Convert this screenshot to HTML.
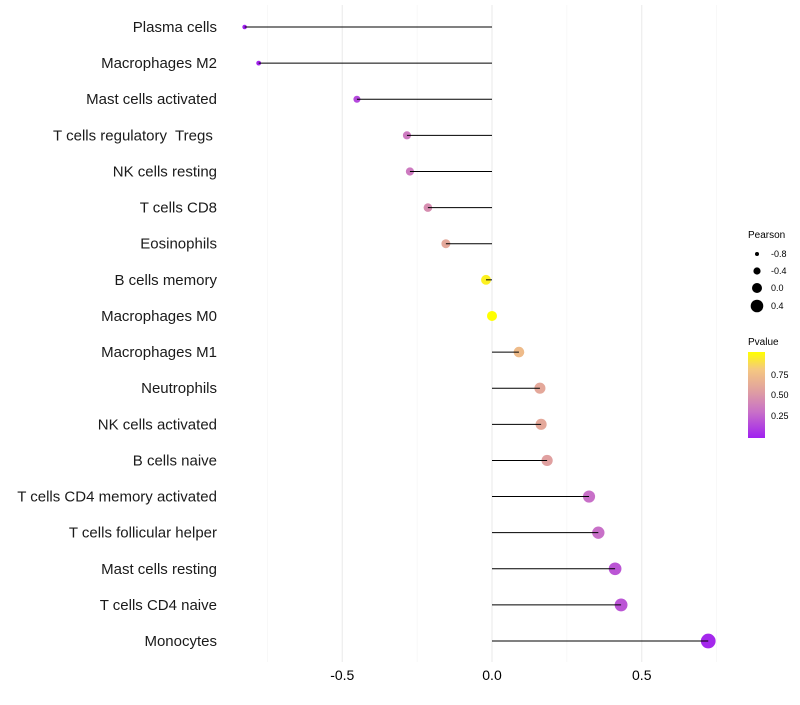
<!DOCTYPE html>
<html><head><meta charset="utf-8"><style>
body{margin:0;background:#fff;font-family:"Liberation Sans",sans-serif}
</style></head><body>
<svg id="chart" width="800" height="700">
<defs><linearGradient id="pg" x1="0" y1="1" x2="0" y2="0">
<stop offset="0" stop-color="#a020f0"/><stop offset="0.3" stop-color="#c870c8"/><stop offset="0.55" stop-color="#e0a0a0"/><stop offset="0.8" stop-color="#f5c880"/><stop offset="1" stop-color="#ffff00"/></linearGradient></defs>
<g id="grid"></g><g id="marks"></g><g id="stems"></g><g id="labels"></g>
<g font-size="9">
<text x="748" y="238" font-size="10">Pearson</text>
<circle cx="757" cy="254" r="2" fill="#000"/><text x="771" y="257">-0.8</text>
<circle cx="757" cy="271" r="3.6" fill="#000"/><text x="771" y="274">-0.4</text>
<circle cx="757" cy="288" r="5" fill="#000"/><text x="771" y="291">0.0</text>
<circle cx="757" cy="306" r="6.3" fill="#000"/><text x="771" y="309">0.4</text>
<text x="748" y="345" font-size="10">Pvalue</text>
<rect x="748" y="352" width="17" height="86" fill="url(#pg)"/>
<text x="771" y="378">0.75</text><text x="771" y="398">0.50</text><text x="771" y="419">0.25</text>
</g>
</svg>
<script>
const cells=["Plasma cells","Macrophages M2","Mast cells activated","T cells regulatory  Tregs ","NK cells resting","T cells CD8","Eosinophils","B cells memory","Macrophages M0","Macrophages M1","Neutrophils","NK cells activated","B cells naive","T cells CD4 memory activated","T cells follicular helper","Mast cells resting","T cells CD4 naive","Monocytes"];
const pearson=[-0.826,-0.779,-0.451,-0.284,-0.274,-0.214,-0.154,-0.02,0.0,0.09,0.16,0.164,0.184,0.324,0.355,0.411,0.431,0.722];
const pvalue=[0.0,0.02,0.15,0.35,0.35,0.45,0.6,0.95,1.0,0.72,0.6,0.6,0.55,0.3,0.3,0.2,0.2,0.03];
const xTicks=[-0.5,0,0.5];
const xTickLabels=["-0.5","0.0","0.5"];
const NS="http://www.w3.org/2000/svg";
const x=v=>492+v*299.5;
const y=i=>27+i*36.12;
const r=v=>5+v*3.3;
function col(p){const st=[[0,[160,32,240]],[0.3,[200,112,200]],[0.55,[224,160,160]],[0.8,[245,200,128]],[1,[255,255,0]]];
for(let k=1;k<st.length;k++){if(p<=st[k][0]){const a=st[k-1],b=st[k],t=(p-a[0])/(b[0]-a[0]);return `rgb(${a[1].map((c,j)=>Math.round(c+(b[1][j]-c)*t)).join(",")})`;}}return "rgb(255,255,0)";}
function mk(t,a,p){const e=document.createElementNS(NS,t);for(const k in a)e.setAttribute(k,a[k]);p.appendChild(e);return e;}
const g=document.getElementById("grid"),m=document.getElementById("marks"),s=document.getElementById("stems"),lb=document.getElementById("labels");
[-0.75,-0.25,0.25,0.75].forEach(v=>{const l=mk("line",{x1:x(v),x2:x(v),y1:5,y2:662,stroke:"#f3f3f3","stroke-width":0.6},g);

});
xTicks.forEach((v,i)=>{const l=mk("line",{x1:x(v),x2:x(v),y1:5,y2:662,stroke:"#ebebeb","stroke-width":1.1},g);


const t=mk("text",{x:x(v),y:680,"text-anchor":"middle","font-size":14,fill:"#000"},lb);t.textContent=xTickLabels[i];

});
cells.forEach((c,i)=>{const t=mk("text",{x:217,y:y(i)+5,"text-anchor":"end","font-size":15,fill:"#1a1a1a",style:"white-space:pre"},lb);t.textContent=c;


const d=mk("circle",{cx:x(pearson[i]),cy:y(i),r:r(pearson[i]),fill:col(pvalue[i])},m);


const l=mk("line",{x1:x(0),x2:x(pearson[i]),y1:y(i),y2:y(i),stroke:"#000","stroke-width":1},s);

});
</script>
</body></html>
